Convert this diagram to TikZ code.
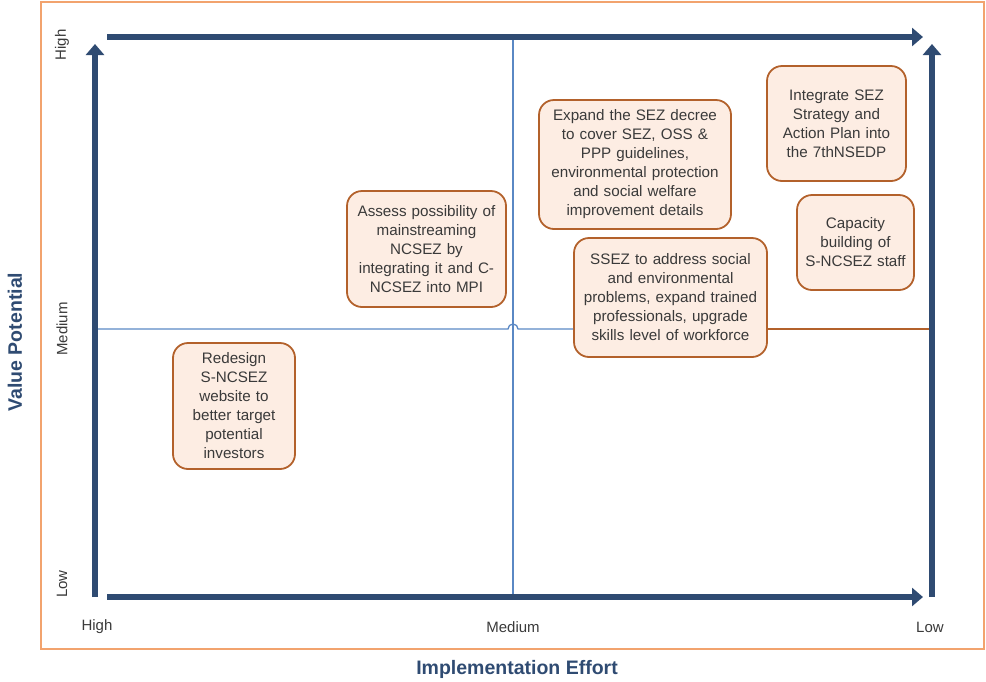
\documentclass[tikz,border=0pt]{standalone}
\usepackage{fontspec}
\setmainfont{Liberation Sans}
\usetikzlibrary{arrows.meta}
\definecolor{axisblue}{HTML}{2F4B72}
\definecolor{thinblue}{HTML}{5A88C4}
\definecolor{frameorange}{HTML}{F2A36E}
\definecolor{boxfill}{HTML}{FDEDE3}
\definecolor{boxdraw}{HTML}{B3612B}
\definecolor{txtgray}{HTML}{3A3A3A}
\tikzset{
  axisarrow/.style={draw=axisblue, line width=6.5pt, -{Triangle[width=18pt,length=11pt]}},
  thinline/.style={draw=thinblue, line width=1.3pt},
  brownline/.style={draw=boxdraw, line width=1.6pt},
  ideabox/.style={draw=boxdraw, fill=boxfill, line width=1.8pt, rounded corners=15pt,
    align=center, text=txtgray, font=\fontsize{15.2}{19}\selectfont, inner sep=0pt},
  ticklabel/.style={text=txtgray, font=\fontsize{15}{17}\selectfont},
  axistitle/.style={text=axisblue, font=\fontsize{19.5}{22}\selectfont\bfseries}
}
\begin{document}
\begin{tikzpicture}[x=1pt,y=-1pt]
\useasboundingbox (0,0) rectangle (986,681);
% frame
\draw[draw=frameorange, line width=1.3pt] (41,2) rectangle (984,649);
% coordinates
\coordinate (bl) at (95,597);
\coordinate (tl) at (95,44);
\coordinate (br) at (932,597);
\coordinate (tr) at (932,44);
\coordinate (tbs) at (107,37);
\coordinate (tbe) at (923,37);
\coordinate (bbs) at (107,597);
\coordinate (bbe) at (923,597);
\coordinate (mtop) at (513,37);
\coordinate (mbot) at (513,597);
\coordinate (hl) at (95,329);
\coordinate (hr) at (932,329);
\coordinate (hop1) at (508,329);
% thin vertical middle line
\draw[thinline] (mtop) -- (mbot);
% boxes
\node[ideabox, minimum width=122pt, minimum height=126pt, text width=116pt] (b1) at (234,406)
  {Redesign\\S-NCSEZ\\website to\\better target\\potential\\investors};
\node[ideabox, minimum width=159pt, minimum height=116pt, text width=155pt] (b2) at (426.5,249)
  {Assess possibility of\\mainstreaming\\NCSEZ by\\integrating it and C-\\NCSEZ into MPI};
\node[ideabox, minimum width=192pt, minimum height=129pt, text width=188pt] (b3) at (635,164.5)
  {Expand the SEZ decree\\to cover SEZ, OSS \&\\PPP guidelines,\\environmental protection\\and social welfare\\improvement details};
\node[ideabox, minimum width=193pt, minimum height=119pt, text width=189pt] (b4) at (670.5,297.5)
  {SSEZ to address social\\and environmental\\problems, expand trained\\professionals, upgrade\\skills level of workforce};
\node[ideabox, minimum width=139pt, minimum height=115pt, text width=134pt] (b5) at (836.5,123.5)
  {Integrate SEZ\\Strategy and\\Action Plan into\\the 7thNSEDP};
\node[ideabox, minimum width=117pt, minimum height=95pt, text width=113pt] (b6) at (855.5,242.5)
  {Capacity\\building of\\S-NCSEZ staff};
% horizontal medium line with hop
\draw[thinline] (hl) -- (hop1) arc[start angle=180, end angle=0, radius=5pt] -- (b4.west |- hl);
\draw[brownline] (b4.east |- hl) -- (hr);
% axes
\draw[axisarrow] (bl) -- (tl);
\draw[axisarrow] (br) -- (tr);
\draw[axisarrow] (tbs) -- (tbe);
\draw[axisarrow] (bbs) -- (bbe);
% tick labels
\node[ticklabel, rotate=90] (vh) at (62,45) {High};
\node[ticklabel, rotate=90] (vm) at (62,329) {Medium};
\node[ticklabel, rotate=90] (vl) at (62,584) {Low};
\node[ticklabel] (eh) at (97,627) {High};
\node[ticklabel] (em) at (513,627) {Medium};
\node[ticklabel] (el) at (930,627) {Low};
% titles
\node[axistitle, rotate=90] (vt) at (15,342) {Value Potential};
\node[axistitle] (et) at (517,669) {Implementation Effort};
\end{tikzpicture}
\end{document}
